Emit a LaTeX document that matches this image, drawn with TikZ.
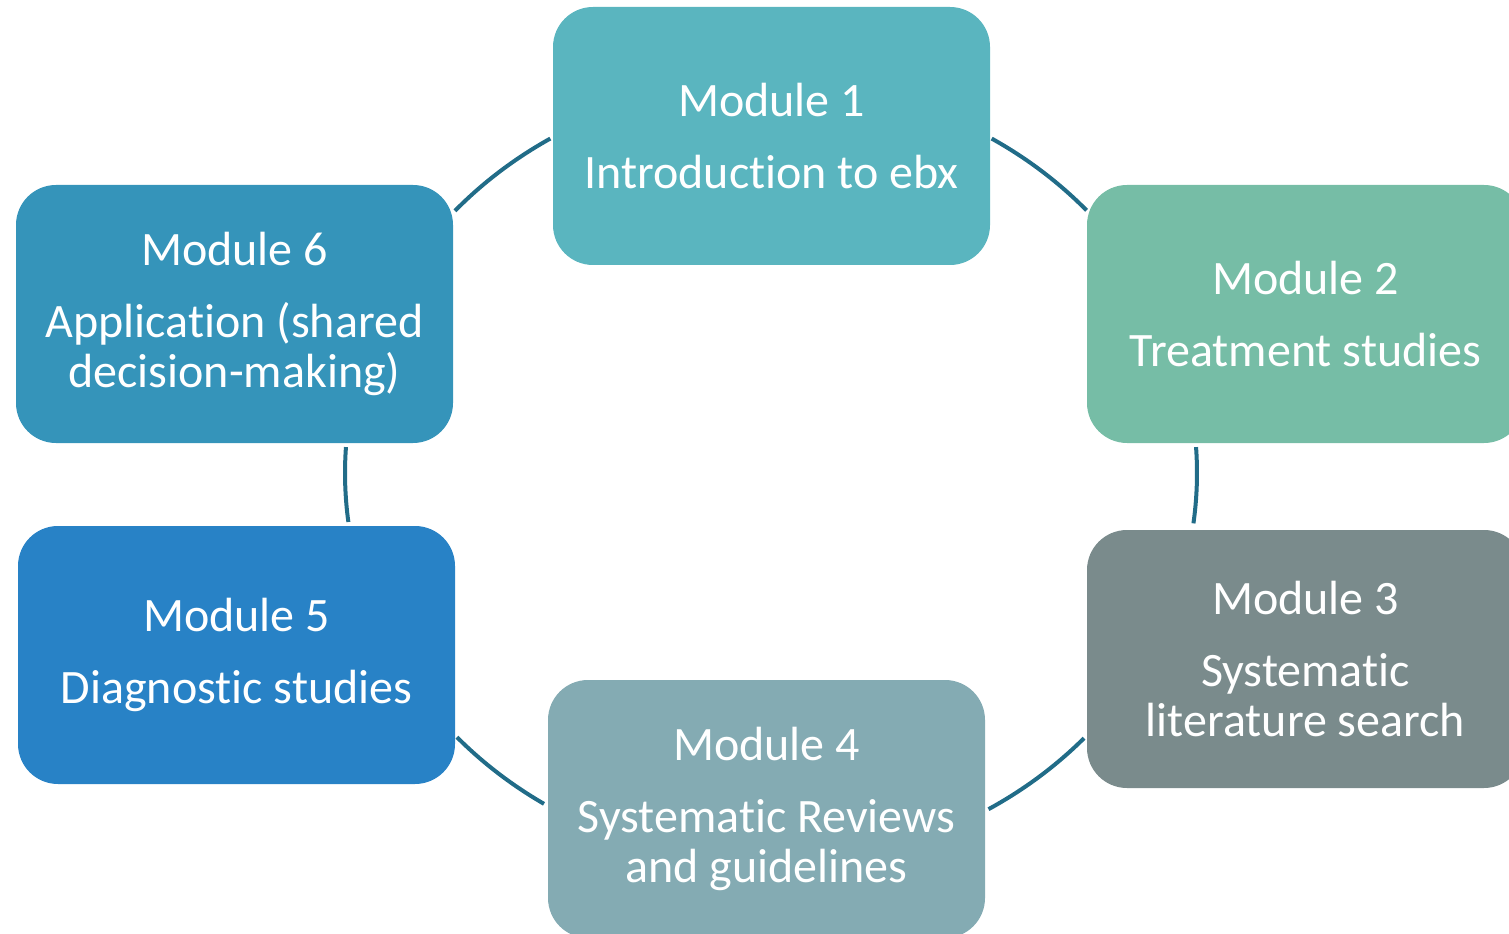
\documentclass[tikz,border=0pt]{standalone}
\usepackage{fontspec}
\setmainfont{Carlito}[Ligatures=NoCommon]
\usetikzlibrary{calc}
\definecolor{cMa}{RGB}{90,181,191}
\definecolor{cMb}{RGB}{118,189,166}
\definecolor{cMc}{RGB}{122,139,140}
\definecolor{cMd}{RGB}{132,171,179}
\definecolor{cMe}{RGB}{40,130,198}
\definecolor{cMf}{RGB}{53,148,186}
\definecolor{connc}{RGB}{33,108,136}
\begin{document}
\begin{tikzpicture}[x=0.5pt,y=0.5pt,
  modbox/.style={rounded corners=20pt, minimum width=218.5pt, minimum height=129pt,
    inner sep=0pt, text=white, align=center, font=\fontsize{24}{25}\selectfont},
  conn/.style={draw=connc, line width=2pt}]
\useasboundingbox (0,0) rectangle (1509,933);
\node[modbox, fill=cMa] (m1) at (771.5,797) {Module 1\\[11pt]Introduction to ebx};
\node[modbox, fill=cMb] (m2) at (1305.5,619) {Module 2\\[11pt]Treatment studies};
\node[modbox, fill=cMc] (m3) at (1305.5,274) {Module 3\\[11pt]Systematic\\literature search};
\node[modbox, fill=cMd] (m4) at (766.5,124) {Module 4\\[11pt]Systematic Reviews\\and guidelines};
\node[modbox, fill=cMe] (m5) at (236.5,278) {Module 5\\[11pt]Diagnostic studies};
\node[modbox, fill=cMf] (m6) at (234.5,619) {Module 6\\[11pt]Application (shared\\decision-making)};
\coordinate (c) at (771,460);
\draw[conn] ($(c)+(137.9:213pt and 195.5pt)$) arc[start angle=137.9, end angle=121.2, x radius=213pt, y radius=195.5pt];
\draw[conn] ($(c)+(58.8:213pt and 195.5pt)$) arc[start angle=58.8, end angle=42.2, x radius=213pt, y radius=195.5pt];
\draw[conn] ($(c)+(3.8:213pt and 195.5pt)$) arc[start angle=3.8, end angle=-7.4, x radius=213pt, y radius=195.5pt];
\draw[conn] ($(c)+(-42.7:213pt and 195.5pt)$) arc[start angle=-42.7, end angle=-59.3, x radius=213pt, y radius=195.5pt];
\draw[conn] ($(c)+(237.8:213pt and 195.5pt)$) arc[start angle=237.8, end angle=222.5, x radius=213pt, y radius=195.5pt];
\draw[conn] ($(c)+(187.2:213pt and 195.5pt)$) arc[start angle=187.2, end angle=176.2, x radius=213pt, y radius=195.5pt];
\end{tikzpicture}
\end{document}
